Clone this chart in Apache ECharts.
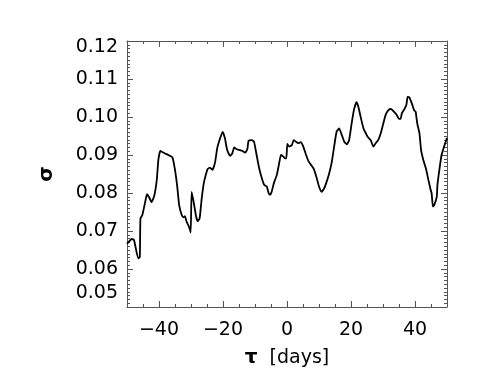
<!DOCTYPE html>
<html>
<head>
<meta charset="utf-8">
<script src="https://cdn.jsdelivr.net/npm/echarts@6/dist/echarts.min.js"></script>
<style>
  html, body { margin: 0; padding: 0; background: #fff; }
  #container { width: 485px; height: 388px; }
</style>
</head>
<body>
<div id="container"></div>
<script>
var tau = [-50, -48.5, -47.8, -46.5, -46.0, -45.8, -45.2, -44.4, -43.75, -43.1, -42.3, -41.5, -40.7, -40.2,
    -39.6, -39.0, -38.1, -37.1, -35.8, -35.0, -34.3, -33.7, -32.9, -32.4, -31.9, -31.4, -30.6, -30.1,
    -29.8, -29.1, -28.4, -27.9, -27.3, -26.7, -26.0, -25.3, -24.8, -24.1, -23.3, -22.5, -21.8, -20.9,
    -20.1, -19.4, -18.7, -17.8, -17.1, -16.5, -15.7, -14.7, -14.0, -13.1, -12.4, -12.0, -11.0, -10.3,
    -9.5, -8.7, -7.7, -7.1, -6.3, -5.8, -5.3, -4.8, -4.1, -3.2, -2.5, -1.9, -1.3, -0.6, -0.2, 0.1,
    0.7, 1.5, 2.1, 2.8, 3.5, 4.3, 5.1, 5.8, 6.7, 7.5, 8.4, 9.3, 10.0, 10.8, 11.6, 12.4, 13.2, 14.0,
    14.8, 15.5, 16.3, 17.1, 17.9, 18.7, 19.4, 20.2, 20.9, 21.7, 22.3, 23.1, 23.9, 24.4, 25.2, 26.2,
    27.0, 27.7, 28.5, 29.3, 30.1, 30.8, 31.7, 32.5, 33.4, 34.3, 35.0, 35.5, 35.9, 36.7, 37.3, 37.7,
    38.2, 39.0, 39.7, 40.2, 40.7, 41.4, 41.9, 42.6, 43.4, 44.2, 44.9, 45.2, 45.6, 46.0, 46.8, 47.0,
    47.6, 48.3, 49.2, 50];
var sigma = [0.0666, 0.0679, 0.0676, 0.0628, 0.0632, 0.0733, 0.0742, 0.0773, 0.0797, 0.0789, 0.0776, 0.0792, 0.0834, 0.0887,
    0.0911, 0.0908, 0.0904, 0.0900, 0.0894, 0.0861, 0.0817, 0.0768, 0.0742, 0.0736, 0.0739, 0.0725, 0.0711, 0.0696,
    0.0803, 0.0773, 0.0738, 0.0726, 0.0733, 0.0782, 0.0826, 0.0850, 0.0863, 0.0867, 0.0861, 0.0880, 0.0918, 0.0944,
    0.0961, 0.0944, 0.0913, 0.0898, 0.0904, 0.0920, 0.0915, 0.0913, 0.0911, 0.0906, 0.0915, 0.0938, 0.0939, 0.0935,
    0.0900, 0.0865, 0.0834, 0.0821, 0.0817, 0.0801, 0.0795, 0.0803, 0.0826, 0.0847, 0.0876, 0.0900, 0.0897, 0.0891, 0.0891, 0.0929,
    0.0922, 0.0926, 0.0939, 0.0935, 0.0931, 0.0934, 0.0922, 0.0904, 0.0884, 0.0874, 0.0863, 0.0839, 0.0817, 0.0803, 0.0812, 0.0830, 0.0852, 0.0882,
    0.0926, 0.0961, 0.0970, 0.0953, 0.0935, 0.0928, 0.0939, 0.0983, 0.1018, 0.1039, 0.1027, 0.0997, 0.0970, 0.0961, 0.0948, 0.0938,
    0.0922, 0.0931, 0.0939, 0.0957, 0.0983, 0.1005, 0.1018, 0.1021, 0.1014, 0.1005, 0.0995, 0.0995, 0.1010, 0.1021, 0.1032, 0.1053,
    0.1052, 0.1036, 0.1018, 0.1014, 0.0983, 0.0957, 0.0913, 0.0887, 0.0865, 0.0834, 0.0808, 0.0799, 0.0764, 0.0768, 0.0790, 0.0820,
    0.0860, 0.0900, 0.0925, 0.0945];
var xLabels = [-40, -20, 0, 20, 40];

var chart = echarts.init(document.getElementById('container'));

var frameColor = '#555';
var font = 'DejaVu Sans';

var lineData = [];
tau.forEach(function (t, i) {
    lineData.push([t, sigma[i]]);
});

function xAxisDef(pos, major, labels) {
    return {
        type: 'value',
        position: pos,
        min: -50,
        max: 50,
        interval: 5,
        axisLine: { show: major, onZero: false, lineStyle: { color: frameColor, width: 1 } },
        axisTick: major ? {
            show: true, inside: true, length: 6,
            customValues: xLabels,
            lineStyle: { color: frameColor }
        } : {
            show: true, inside: true, length: 3,
            lineStyle: { color: frameColor }
        },
        axisLabel: labels ? {
            show: true,
            customValues: xLabels,
            margin: 14,
            color: '#000',
            fontFamily: font,
            fontSize: 19,
            formatter: function (v) {
                return v < 0 ? '\u2212' + Math.abs(v) : String(v);
            }
        } : { show: false },
        splitLine: { show: false }
    };
}

function yAxisDef(pos, labels) {
    return {
        type: 'value',
        position: pos,
        min: 0.05,
        max: 0.12,
        interval: 0.01,
        axisLine: { show: true, onZero: false, lineStyle: { color: frameColor, width: 1 } },
        axisTick: { show: true, inside: true, length: 6, lineStyle: { color: frameColor } },
        minorTick: { show: true, splitNumber: 10, length: 3, lineStyle: { color: frameColor } },
        axisLabel: labels ? {
            show: true,
            margin: 9,
            color: '#000',
            fontFamily: font,
            fontSize: 19,
            formatter: function (v) {
                var s = v.toFixed(2);
                if (Math.abs(v - 0.12) < 1e-6) return '{top|' + s + '}';
                if (Math.abs(v - 0.05) < 1e-6) return '{bot|' + s + '}';
                return s;
            },
            rich: {
                top: { fontFamily: font, fontSize: 19, color: '#000', padding: [12, 0, 0, 0] },
                bot: { fontFamily: font, fontSize: 19, color: '#000', padding: [0, 0, 28, 0] }
            }
        } : { show: false },
        name: labels ? '\u03c3' : '',
        nameLocation: 'middle',
        nameGap: 70,
        nameTextStyle: { color: '#000', fontFamily: font, fontSize: 20, fontWeight: 'bold' },
        splitLine: { show: false }
    };
}

var xMain = xAxisDef('bottom', true, true);
xMain.name = '{t|\u03c4}  [days]';
xMain.nameLocation = 'middle';
xMain.nameGap = 41;
xMain.nameTextStyle = {
    color: '#000', fontFamily: font, fontSize: 19,
    rich: { t: { fontFamily: font, fontSize: 20, fontWeight: 'bold', color: '#000' } }
};

var option = {
    animation: false,
    backgroundColor: '#fff',
    grid: { left: 127, right: 38, top: 41, bottom: 81, containLabel: false },
    xAxis: [
        xMain,
        xAxisDef('bottom', false, false),
        xAxisDef('top', true, false),
        xAxisDef('top', false, false)
    ],
    yAxis: [
        yAxisDef('left', true),
        yAxisDef('right', false)
    ],
    series: [{
        type: 'line',
        xAxisIndex: 0,
        yAxisIndex: 0,
        data: lineData,
        showSymbol: false,
        smooth: 0.15,
        lineStyle: { color: '#000', width: 1.8 }
    }]
};
chart.setOption(option);
</script>
</body>
</html>
